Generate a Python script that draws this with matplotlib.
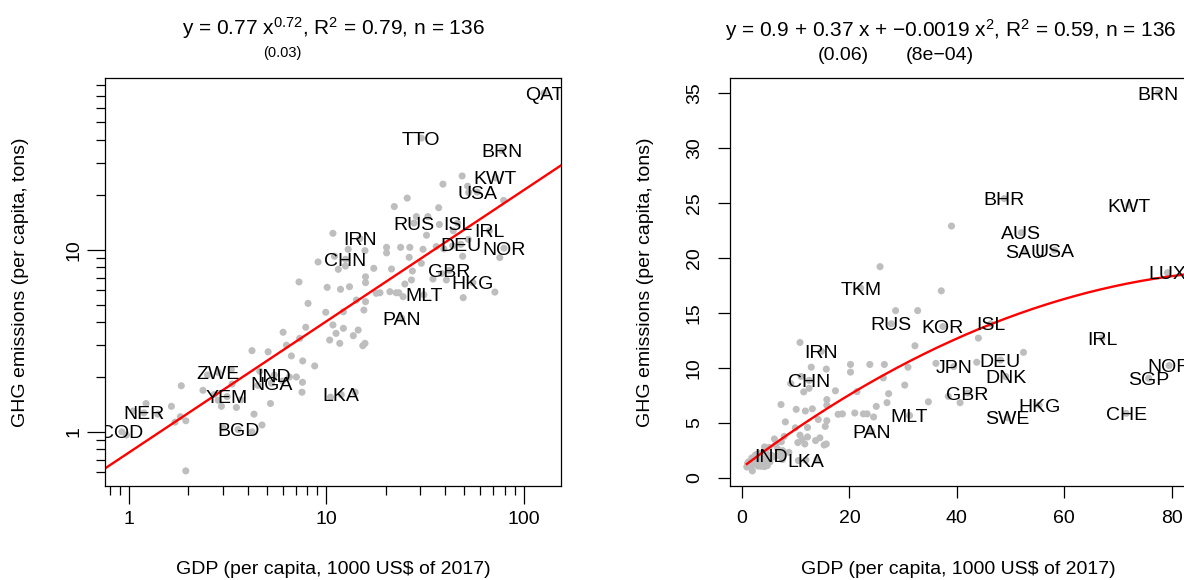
import matplotlib
matplotlib.use("Agg")
import matplotlib.pyplot as plt
import numpy as np
from matplotlib.ticker import NullFormatter

plt.rcParams["font.family"] = ["Liberation Sans", "DejaVu Sans"]
plt.rcParams["mathtext.fontset"] = "custom"
plt.rcParams["mathtext.rm"] = "Liberation Sans"
plt.rcParams["mathtext.it"] = "Liberation Sans"
plt.rcParams["mathtext.default"] = "rm"

# labelled countries: GDP per capita (1000 US$ of 2017), GHG per capita (t)
codes = ["QAT", "TTO", "BRN", "KWT", "USA", "RUS", "ISL", "IRL", "IRN", "DEU",
         "NOR", "CHN", "GBR", "HKG", "MLT", "PAN", "ZWE", "IND", "NGA", "YEM",
         "LKA", "NER", "COD", "BGD", "BHR", "AUS", "SAU", "LUX", "TKM", "KOR",
         "JPN", "DNK", "SGP", "SWE", "CHE"]
code_gdp = [127, 30.3, 77.5, 72.0, 58.2, 27.8, 46.3, 67.0, 14.8, 48.1,
            79.5, 12.5, 42.0, 55.3, 31.2, 24.1, 2.83, 5.45, 5.27, 3.14,
            11.9, 1.19, 0.92, 3.57, 48.8, 52.0, 52.7, 79.2, 22.1, 37.4,
            39.4, 49.1, 75.7, 49.4, 71.5]
code_ghg = [72.4, 41.0, 35.0, 24.8, 20.7, 14.0, 14.0, 12.7, 11.5, 10.7,
            10.2, 8.85, 7.7, 6.6, 5.65, 4.2, 2.12, 2.05, 1.85, 1.56,
            1.6, 1.27, 1.0, 1.03, 25.4, 22.3, 20.6, 18.65, 17.25, 13.75,
            10.1, 9.2, 9.05, 5.45, 5.85]

# countries without a label
other_gdp = [39.0, 25.7, 37.1, 28.6, 32.2, 20.2, 20.2, 23.8, 26.5, 30.9,
             36.1, 26.3, 30.3, 21.4, 27.3, 17.4, 10.8, 12.9, 15.7, 9.08,
             11.5, 12.5, 15.8, 15.8, 7.27, 10.1, 11.8, 13.1, 25.0, 27.0,
             34.7, 40.6, 21.0, 22.6, 17.9, 18.7, 24.5, 14.2, 15.8, 8.08,
             9.93, 12.2, 15.5, 10.8, 12.2, 11.2, 14.5, 13.7, 10.4, 11.7,
             15.7, 15.3, 6.04, 7.86, 7.33, 6.28, 4.2, 5.07, 6.65, 7.59,
             8.73, 7.05, 7.57, 7.53, 5.21, 4.3, 4.72, 3.33, 2.37, 1.84,
             1.64, 1.22, 1.82, 1.94, 1.71, 2.94, 3.5, 2.83, 1.94,
             52.4, 44.0, 43.7, 38.4, 32.7, 23.3,
             2.5, 3.3, 4.6, 6.5, 4.5, 6.0, 2.7, 3.7, 1.05, 1.4,
             3.0, 4.2, 0.97, 10.5, 14.0, 11.0]
other_ghg = [22.9, 19.2, 17.0, 15.2, 12.0, 10.3, 9.6, 10.3, 10.3, 10.05,
             10.4, 9.08, 8.42, 7.83, 7.64, 7.9, 12.3, 10.05, 9.88, 8.56,
             7.8, 8.13, 7.1, 6.59, 6.65, 6.21, 6.06, 6.26, 6.48, 6.82,
             6.9, 6.82, 5.88, 5.8, 5.76, 5.8, 5.52, 5.29, 5.18, 5.07,
             4.53, 4.56, 4.66, 3.86, 3.7, 3.47, 3.62, 3.37, 3.19, 3.06,
             3.06, 2.97, 3.52, 3.75, 3.26, 2.99, 2.79, 2.75, 2.61, 2.45,
             2.3, 2.0, 1.87, 1.65, 1.43, 1.25, 1.09, 1.83, 1.69, 1.79,
             1.38, 1.43, 1.21, 1.15, 1.13, 1.38, 1.36, 1.49, 0.61,
             11.4, 12.7, 10.5, 7.4, 15.2, 5.8,
             2.05, 2.2, 2.15, 2.0, 1.8, 1.9, 1.6, 1.5, 1.3, 1.25,
             1.05, 1.0, 0.96, 1.55, 1.65, 9.2]

left_labels = ["QAT", "TTO", "BRN", "KWT", "USA", "RUS", "ISL", "IRL", "IRN",
               "DEU", "NOR", "CHN", "GBR", "HKG", "MLT", "PAN", "ZWE", "IND",
               "NGA", "YEM", "LKA", "NER", "COD", "BGD"]
right_labels = ["BRN", "BHR", "KWT", "AUS", "SAU", "USA", "LUX", "TKM", "RUS",
                "KOR", "ISL", "IRL", "IRN", "JPN", "DEU", "NOR", "CHN", "DNK",
                "SGP", "GBR", "HKG", "SWE", "CHE", "MLT", "PAN", "IND", "LKA"]
zoom_out = ["QAT", "TTO"]  # left out of the linear panel's range

# fitted models shown in the titles
pow_a, pow_b = 0.77, 0.72
quad = [0.9, 0.37, -0.0019]

gdp = np.array(code_gdp + other_gdp)
ghg = np.array(code_ghg + other_ghg)
pos = dict(zip(codes, zip(code_gdp, code_ghg)))


def r_range(v):
    # R style axis range: data range plus 4 % on each side
    lo, hi = np.min(v), np.max(v)
    d = 0.04 * (hi - lo)
    return lo - d, hi + d


W, H = 1184, 580
FS = 14
FS_TITLE = 15
GREY = "#BEBEBE"


def box(l, t, r, b):
    return [l / W, 1 - b / H, (r - l) / W, (b - t) / H]


fig = plt.figure(figsize=(W / 100, H / 100), dpi=100)
axL = fig.add_axes(box(105, 78, 561, 486))
axR = fig.add_axes(box(730, 78, 1186, 486))

# ---- left panel: log-log
axL.set_xscale("log")
axL.set_yscale("log")
xl = 10 ** np.array(r_range(np.log10(gdp)))
yl = 10 ** np.array(r_range(np.log10(ghg)))
axL.scatter(gdp, ghg, s=26, color=GREY, edgecolors="none", zorder=1)
xx = np.geomspace(xl[0], xl[1], 200)
axL.plot(xx, pow_a * xx ** pow_b, color="red", lw=1.7, zorder=2)
for c in left_labels:
    axL.text(pos[c][0], pos[c][1], c, fontsize=FS, ha="center",
             va="center_baseline", clip_on=True, zorder=3)
axL.set_xlim(xl)
axL.set_ylim(yl)
axL.set_xticks([1, 10, 100], ["1", "10", "100"])
axL.set_yticks([1, 10], ["1", "10"])
minor = [k * 10.0 ** e for e in range(-1, 3) for k in range(2, 10)]
axL.set_xticks([m for m in minor if xl[0] <= m <= xl[1]], minor=True)
axL.set_yticks([m for m in minor if yl[0] <= m <= yl[1]], minor=True)
axL.xaxis.set_minor_formatter(NullFormatter())
axL.yaxis.set_minor_formatter(NullFormatter())
axL.tick_params(which="major", length=13, width=0.9, labelsize=FS)
axL.tick_params(which="minor", length=6.5, width=0.9)
axL.tick_params(axis="x", which="major", pad=5)
axL.tick_params(axis="y", which="major", pad=3, labelrotation=90)

# ---- right panel: linear with quadratic fit
keep = np.array([c not in zoom_out for c in codes] + [True] * len(other_gdp))
xr = r_range(gdp[keep])
yr = r_range(ghg[keep])
axR.scatter(gdp, ghg, s=26, color=GREY, edgecolors="none", zorder=1)
xq = np.linspace(gdp.min(), gdp.max(), 300)
axR.plot(xq, quad[0] + quad[1] * xq + quad[2] * xq ** 2, color="red", lw=1.7,
         zorder=2)
for c in right_labels:
    axR.text(pos[c][0], pos[c][1], c, fontsize=FS, ha="center",
             va="center_baseline", clip_on=True, zorder=3)
axR.set_xlim(xr)
axR.set_ylim(yr)
axR.set_xticks([0, 20, 40, 60, 80])
axR.set_yticks(range(0, 36, 5))
axR.tick_params(length=8.6, width=0.9, labelsize=FS)
axR.tick_params(axis="x", pad=9)
axR.tick_params(axis="y", pad=11, labelrotation=90)

for ax in (axL, axR):
    for sp in ax.spines.values():
        sp.set_linewidth(0.9)
    for t in ax.get_yticklabels():
        t.set_va("center")

# axis titles
ylab = "GHG emissions (per capita, tons)"
xlab = "GDP (per capita, 1000 US$ of 2017)"
fig.text(21 / W, 1 - 282 / H, ylab, rotation=90, fontsize=FS,
         ha="center", va="center")
fig.text(645 / W, 1 - 282 / H, ylab, rotation=90, fontsize=FS,
         ha="center", va="center")
fig.text(333 / W, 1 - 570 / H, xlab, fontsize=FS, ha="center", va="center")
fig.text(958 / W, 1 - 570 / H, xlab, fontsize=FS, ha="center", va="center")

# model titles
fig.text(333 / W, 1 - 34.5 / H,
         r"y = 0.77 x$^{0.72}$, R$^{2}$ = 0.79, n = 136",
         fontsize=FS_TITLE, ha="center", va="baseline")
fig.text(282.7 / W, 1 - 52.7 / H, "(0.03)", fontsize=10.5,
         ha="center", va="center")
fig.text(951 / W, 1 - 36.5 / H,
         "y = 0.9 + 0.37 x + \u22120.0019 x$^{2}$, R$^{2}$ = 0.59, n = 136",
         fontsize=FS_TITLE, ha="center", va="baseline")
fig.text(843 / W, 1 - 55 / H, "(0.06)", fontsize=FS, ha="center", va="center")
fig.text(940 / W, 1 - 55 / H, "(8e\u221204)", fontsize=FS,
         ha="center", va="center")

fig.savefig("out.png", dpi=100)
